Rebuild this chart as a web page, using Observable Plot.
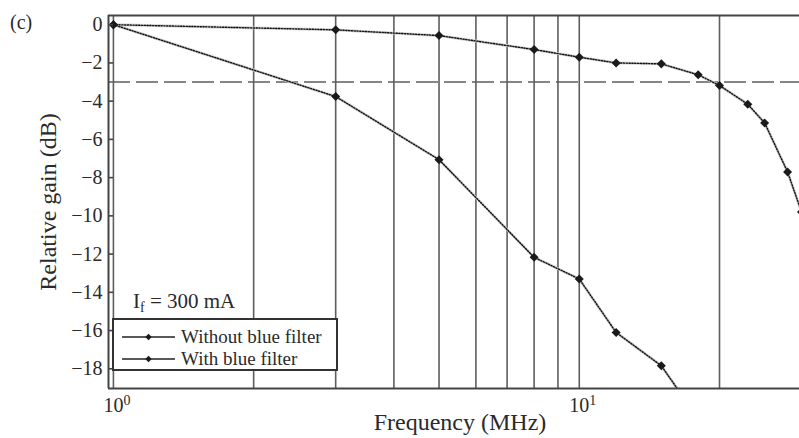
<!DOCTYPE html>
<html><head><meta charset="utf-8">
<script src="https://cdn.jsdelivr.net/npm/d3@7"></script>
<script src="https://cdn.jsdelivr.net/npm/@observablehq/plot@0.6"></script>
<style>
body{margin:0;background:#fff;}
#wrap{position:relative;width:799px;height:438px;overflow:hidden;font-family:"Liberation Serif","Times New Roman",serif;color:#2a2a2a;}
#panel{position:absolute;left:10px;top:12px;font-size:20px;line-height:1;}
#cond{position:absolute;left:133px;top:291px;font-size:21px;line-height:1;}
#cond sub{font-size:14px;vertical-align:-4px;}
#legend{position:absolute;left:112px;top:318px;width:222px;height:49px;border:2px solid #333;background:#fff;font-size:19px;}
.row{position:absolute;left:8px;height:20px;display:flex;align-items:center;white-space:nowrap;}
.row svg{margin-right:6px;}
</style></head><body>
<div id="wrap"></div>
<script>
// ---- data ----
const panelLabel = "(c)";
const conditionParts = ["I", "f", " = 300 mA"];
const seriesNames = ["Without blue filter", "With blue filter"];
const xLabel = "Frequency (MHz)";
const yLabel = "Relative gain (dB)";

const freqNoFilter = [1, 3, 5, 8, 10, 12, 15, 18, 20, 23, 25, 28, 30];
const gainNoFilter = [0, -0.27, -0.57, -1.3, -1.7, -2.0, -2.05, -2.62, -3.18, -4.16, -5.14, -7.7, -9.8];

const freqWithFilter = [1, 3, 5, 8, 10, 12, 15, 18];
const gainWithFilter = [0, -3.76, -7.06, -12.17, -13.3, -16.1, -17.84, -20.6];

const gridFreqs = [1, 2, 3, 4, 5, 6, 7, 8, 9, 10, 20];
const xTicks = [1, 10];
const xTickBase = "10";
const xTickExponents = ["0", "1"];
const yTicks = [0, -2, -4, -6, -8, -10, -12, -14, -16, -18];
const cutoffDb = [-3];
const xDomain = [0.976, 29.7];
const yDomain = [-19.03, 0.48];

// ---- build ----
const rows = [
  ...freqNoFilter.map((f, i) => ({f, g: gainNoFilter[i], s: seriesNames[0]})),
  ...freqWithFilter.map((f, i) => ({f, g: gainWithFilter[i], s: seriesNames[1]}))
];
const ink = "#2a2a2a";
const gridColor = "#5e5e5e";

const chart = Plot.plot({
  width: 799,
  height: 438,
  marginLeft: 108,
  marginRight: 0,
  marginTop: 15,
  marginBottom: 50,
  style: {fontFamily: "'Liberation Serif', 'Times New Roman', serif", fontSize: "20px", color: ink, background: "#fff"},
  x: {type: "log", domain: xDomain},
  y: {domain: yDomain},
  marks: [
    Plot.ruleX(gridFreqs, {stroke: gridColor, strokeWidth: 1.6}),
    Plot.ruleY(cutoffDb, {stroke: gridColor, strokeWidth: 1.6, strokeDasharray: "22,6"}),
    Plot.line(rows, {x: "f", y: "g", z: "s", stroke: "#cfcfcf", strokeWidth: 2.8, clip: true}),
    Plot.line(rows, {x: "f", y: "g", z: "s", stroke: "#111", strokeWidth: 1.4, strokeDasharray: "1.2,1.6", clip: true}),
    Plot.dot(rows, {x: "f", y: "g", symbol: "square", rotate: 45, r: 3.6, fill: "#1a1a1a", stroke: "none", clip: true}),
    Plot.ruleY([yDomain[0]], {stroke: "#444", strokeWidth: 2}),
    Plot.ruleY([yDomain[1]], {stroke: "#444", strokeWidth: 2}),
    Plot.ruleX([xDomain[0]], {stroke: "#444", strokeWidth: 2}),
    Plot.axisY(yTicks, {anchor: "left", tickSize: 0, tickPadding: 6, fontSize: 20, label: null}),
    Plot.axisY(yTicks, {anchor: "left", tickSize: -5, text: null, label: null, stroke: "#444", strokeWidth: 1.6}),
    Plot.axisX(xTicks, {anchor: "bottom", tickSize: 0, tickPadding: 9, fontSize: 20, label: null,
      tickFormat: d => xTickBase + xTickExponents[xTicks.indexOf(d)]}),
    Plot.text([yLabel], {frameAnchor: "left", rotate: -90, dx: -60, fontSize: 24, textAnchor: "middle", lineAnchor: "middle", fill: ink}),
    Plot.text([xLabel], {frameAnchor: "bottom", dy: 34, dx: 6, fontSize: 24, textAnchor: "middle", lineAnchor: "middle", fill: ink})
  ]
});

// render exponents as real superscripts
chart.querySelectorAll('[aria-label="x-axis tick label"] text').forEach(t => {
  const full = t.textContent;
  const exp = full.slice(xTickBase.length);
  t.textContent = "";
  const ns = "http://www.w3.org/2000/svg";
  const a = document.createElementNS(ns, "tspan");
  a.textContent = xTickBase;
  const b = document.createElementNS(ns, "tspan");
  b.textContent = exp;
  b.setAttribute("font-size", "14");
  b.setAttribute("dy", "-7");
  t.appendChild(a);
  t.appendChild(b);
  t.setAttribute("text-anchor", "start");
  t.setAttribute("dx", "-10");
});

const wrap = document.getElementById("wrap");
wrap.appendChild(chart);

const panel = document.createElement("div");
panel.id = "panel";
panel.textContent = panelLabel;
wrap.appendChild(panel);

const cond = document.createElement("div");
cond.id = "cond";
cond.innerHTML = `${conditionParts[0]}<sub>${conditionParts[1]}</sub>${conditionParts[2]}`;
wrap.appendChild(cond);

const legend = document.createElement("div");
legend.id = "legend";
seriesNames.forEach((name, i) => {
  const row = document.createElement("div");
  row.className = "row";
  row.style.top = (7 + i * 22) + "px";
  row.innerHTML = `<svg width="53" height="10"><line x1="0" y1="5" x2="53" y2="5" stroke="#222" stroke-width="1.6"/><path d="M26.5,1.8L29.7,5L26.5,8.2L23.3,5Z" fill="#1a1a1a"/></svg><span>${name}</span>`;
  legend.appendChild(row);
});
wrap.appendChild(legend);
</script></body></html>
